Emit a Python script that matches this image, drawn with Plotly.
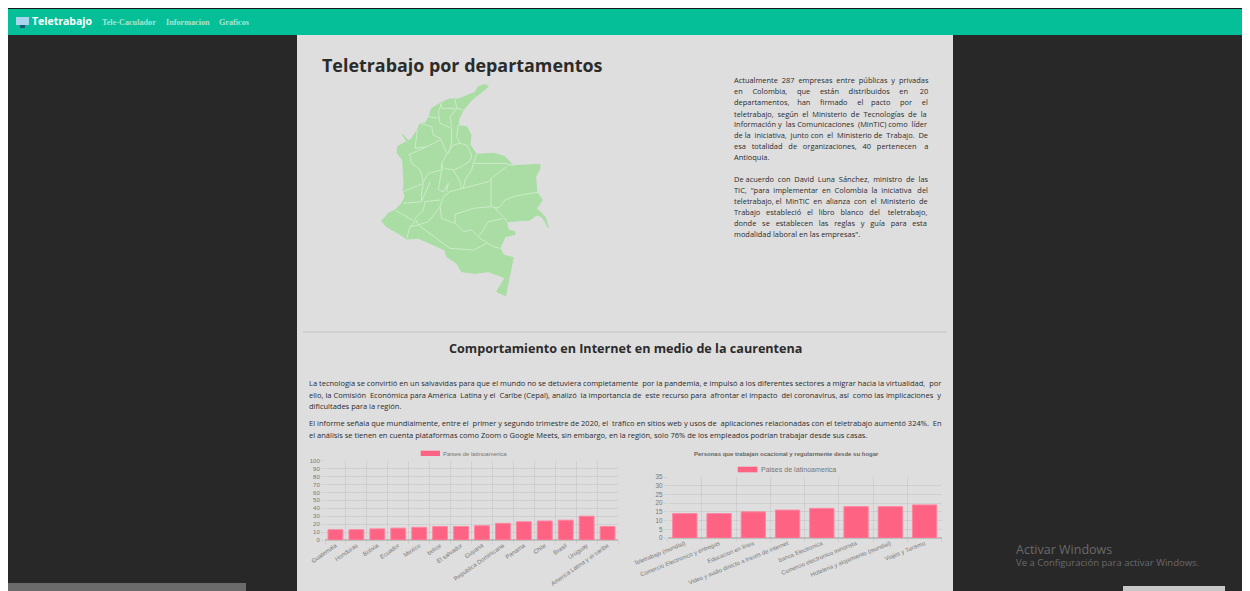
import plotly.graph_objects as go

# tamano util: el html deja 8px de margen en el body
ANCHO, ALTO = 1242, 583

paises = ["Guatemala", "Honduras", "Bolivia", "Ecuador", "Mexico", "belice", "El salvador", "Guyana",
          "Republica Dominicana", "Panama", "Chile", "Brasil", "Uruguay", "America Latina y el caribe"]
valores_paises = [13, 13, 14, 15, 16, 17, 17, 18, 21, 23, 24, 25, 30, 17]

sectores = ["Teletrabajo (mundial)", "Comercio Electronico y entregas", "Educacion en linea",
            "Video y audio directo a traves de internet", "banca Electronica",
            "Comercio electronico minorista", "Hoteleria y alojamiento (mundial)", "Viajes y Turismo"]
valores_sectores = [14, 14, 15, 16, 17, 18, 18, 19]

# contorno del mapa y limites de departamentos
mapa_x = [385, 375, 355, 345, 320, 295, 268, 240, 215, 207, 195, 180, 172, 155, 145, 128, 140, 130, 112, 112, 128,
          130, 132, 130, 135, 125, 105, 85, 65, 80, 115, 140, 175, 210, 255, 260, 290, 305, 345, 385, 410, 435, 410,
          437, 445, 460, 430, 420, 435, 465, 465, 445, 440, 510, 530, 545, 555, 565, 555, 530, 547, 530, 527, 540,
          540, 460, 435, 400, 350, 330, 333, 320, 295, 295, 310, 335, 385]
mapa_y = [35, 28, 35, 52, 62, 72, 72, 85, 100, 125, 145, 145, 165, 190, 198, 178, 200, 205, 215, 235, 255,
          290, 320, 345, 365, 385, 405, 415, 438, 455, 475, 492, 490, 505, 525, 545, 565, 590, 595, 590, 600, 608, 650,
          662, 620, 548, 540, 520, 485, 478, 470, 465, 440, 435, 420, 425, 440, 458, 425, 400, 375, 350, 305, 280,
          268, 272, 245, 235, 238, 210, 180, 155, 152, 135, 105, 75, 35]
limites = [
    [(285, 72), (290, 100), (310, 105)],
    [(240, 85), (245, 100), (285, 100)],
    [(245, 85), (235, 110), (240, 145), (275, 160), (275, 205), (265, 235)],
    [(290, 100), (270, 125), (275, 155)],
    [(207, 125), (235, 130)],
    [(180, 145), (215, 155), (220, 180), (240, 190), (250, 210), (260, 235)],
    [(172, 165), (165, 220), (200, 215), (240, 195)],
    [(145, 240), (200, 215)],
    [(150, 240), (155, 265), (180, 285), (185, 300), (190, 325)],
    [(295, 150), (290, 185), (300, 205), (280, 210), (262, 235), (245, 265), (250, 285)],
    [(300, 205), (320, 210), (335, 240), (330, 258), (305, 275), (280, 285), (255, 280)],
    [(350, 238), (340, 265), (435, 265), (460, 272)],
    [(340, 265), (335, 285), (315, 315), (310, 340)],
    [(440, 275), (400, 305), (385, 320), (310, 340), (270, 350), (250, 365), (240, 395)],
    [(393, 310), (393, 395), (415, 400)],
    [(533, 352), (470, 362), (435, 375), (420, 395), (405, 400), (435, 430), (440, 440)],
    [(393, 395), (340, 400), (285, 418), (285, 445), (310, 470)],
    [(285, 445), (245, 430), (240, 395)],
    [(310, 470), (335, 465), (360, 490), (400, 515), (420, 520)],
    [(430, 430), (385, 440), (370, 465), (355, 485)],
    [(175, 450), (230, 490), (270, 520), (340, 525), (380, 505)],
    [(240, 395), (205, 440), (175, 450), (165, 430), (190, 405), (195, 380), (240, 375)],
    [(130, 385), (185, 380), (185, 350), (190, 325), (130, 350)],
    [(245, 265), (245, 285), (205, 295), (190, 320)],
    [(245, 285), (235, 345), (250, 350), (265, 325), (260, 350)],
    [(210, 320), (185, 380)],
    [(105, 405), (130, 420), (165, 440), (150, 455), (140, 490)],
    [(150, 455), (175, 450)],
    [(305, 340), (300, 320), (280, 285)],
]

parrafo_derecha = [
    ("Actualmente 287 empresas entre públicas y privadas", 80, True),
    ("en Colombia, que están distribuidos en 20", 91.2, True),
    ("departamentos, han firmado el pacto por el", 102.3, True),
    ("teletrabajo, según el Ministerio de Tecnologías de la", 113.5, True),
    ("Información y las Comunicaciones (MinTIC) como líder", 124.5, True),
    ("de la iniciativa, junto con el Ministerio de Trabajo. De", 135.5, True),
    ("esa totalidad de organizaciones, 40 pertenecen a", 146.3, True),
    ("Antioquia.", 157.1, False),
    ("De acuerdo con David Luna Sánchez, ministro de las", 179.1, True),
    ("TIC, \"para implementar en Colombia la iniciativa del", 190.1, True),
    ("teletrabajo, el MinTIC en alianza con el Ministerio de", 201.2, True),
    ("Trabajo estableció el libro blanco del teletrabajo,", 212.3, True),
    ("donde se establecen las reglas y guía para esta", 223.3, True),
    ("modalidad laboral en las empresas\".", 234.3, False),
]
parrafo_ancho = [
    ("La tecnología se convirtió en un salvavidas para que el mundo no se detuviera completamente por la pandemia, e impulsó a los diferentes sectores a migrar hacia la virtualidad, por", 383, True),
    ("ello, la Comisión Económica para América Latina y el Caribe (Cepal), analizó la importancia de este recurso para afrontar el impacto del coronavirus, así como las implicaciones y", 394.5, True),
    ("dificultades para la región.", 406, False),
    ("El informe señala que mundialmente, entre el primer y segundo trimestre de 2020, el tráfico en sitios web y usos de aplicaciones relacionadas con el teletrabajo aumentó 324%. En", 423, True),
    ("el análisis se tienen en cuenta plataformas como Zoom o Google Meets, sin embargo, en la región, solo 76% de los empleados podrían trabajar desde sus casas.", 434.5, False),
]

FUENTE = "Open Sans"
GRIS = "#777777"
ROSA = "#ff6384"
ESPACIO = 0.26

# anchos aproximados de Open Sans, en em
ANCHOS = {"a": .556, "b": .613, "c": .476, "d": .613, "e": .561, "f": .339, "g": .548, "h": .613, "i": .253,
          "j": .253, "k": .525, "l": .253, "m": .93, "n": .613, "o": .604, "p": .613, "q": .613, "r": .408,
          "s": .477, "t": .353, "u": .613, "v": .501, "w": .778, "x": .524, "y": .504, "z": .468, " ": ESPACIO,
          ",": .245, ".": .266, "%": .82, "(": .3, ")": .3, "\"": .4, "A": .633, "B": .65, "C": .63, "D": .73,
          "E": .556, "G": .73, "I": .28, "L": .52, "M": .9, "T": .553, "Z": .56}
ACENTOS = str.maketrans("áéíóúñ", "aeioun")


def px_x(x):
    return (x - 8) / ANCHO


def px_y(y):
    return 1 - (y - 8) / ALTO


def ancho_texto(s, size):
    return sum(ANCHOS.get(c, .572) for c in s.translate(ACENTOS)) * size


def justificar(linea, ancho, size):
    # reparte espacios de mas entre palabras para imitar el texto justificado
    palabras = linea.split(" ")
    huecos = len(palabras) - 1
    extra = max(0, round((ancho - ancho_texto(linea, size)) / (ESPACIO * size)))
    salida = palabras[0]
    for i, p in enumerate(palabras[1:]):
        n = (i + 1) * extra // huecos - i * extra // huecos
        salida += " " + "\u00a0" * n + p
    return salida


def rect(x0, y0, x1, y1, color):
    return dict(type="rect", xref="paper", yref="paper", layer="below", line_width=0, fillcolor=color,
                x0=px_x(x0), x1=px_x(x1), y0=px_y(y1), y1=px_y(y0))


def texto(x, y, s, size, color="#2b2b2b", anchor="left", fuente=FUENTE):
    # el recuadro de la anotacion mete unos 2px a la izquierda
    dx = -2 if anchor == "left" else 0
    return dict(xref="paper", yref="paper", x=px_x(x + dx), y=px_y(y), text=s, showarrow=False, xanchor=anchor,
                yanchor="middle", align=anchor, font=dict(family=fuente, size=size, color=color))


fig = go.Figure()

fig.add_trace(go.Bar(x=paises, y=valores_paises, marker=dict(color=ROSA, line=dict(color="#ff85a0", width=1)),
                     xaxis="x", yaxis="y", name="Paises de latinoamerica"))
fig.add_trace(go.Bar(x=sectores, y=valores_sectores, marker=dict(color=ROSA, line=dict(color="#ff85a0", width=1)),
                     xaxis="x2", yaxis="y2", name="Paises de latinoamerica"))

# mapa en su propio eje oculto
fig.add_trace(go.Scatter(x=mapa_x, y=mapa_y, mode="lines", fill="toself", fillcolor="#a9dda4",
                         line=dict(color="#a9dda4", width=1), xaxis="x3", yaxis="y3", hoverinfo="skip"))
for lim in limites:
    fig.add_trace(go.Scatter(x=[p[0] for p in lim], y=[p[1] for p in lim], mode="lines",
                             line=dict(color="#cdebc9", width=1), xaxis="x3", yaxis="y3", hoverinfo="skip"))

eje = dict(showline=False, automargin=False, gridcolor="rgba(0,0,0,0.06)", zeroline=True,
           zerolinecolor="rgba(0,0,0,0.15)", ticks="outside", ticklen=3, tickcolor="rgba(0,0,0,0.06)")
fuente_ticks = dict(family="Liberation Sans", color=GRIS)

formas = [
    rect(0, 8, 1250, 9, "#1a1a1a"),
    rect(8, 35, 1243, 591, "#282828"),
    rect(8, 9, 1243, 35, "#05bf98"),
    rect(297, 35, 953, 591, "#dedede"),
    rect(1243, 9, 1250, 591, "#f0f0f0"),
    rect(1243, 9, 1250, 331, "#cdcdcd"),
    rect(8, 583, 246, 591, "#6b6b6b"),
    rect(1123, 586, 1225, 591, "#c8c8c8"),
    rect(303, 331.5, 947, 332.5, "#c4c4c4"),
    rect(420.7, 450.7, 440, 456, ROSA),
    rect(737.7, 466.7, 757.3, 472.3, ROSA),
    # icono del menu
    rect(16, 17, 29, 25, "#a9d4ee"),
    rect(20, 25, 25, 28, "#1d5a7a"),
]

notas = [
    texto(32, 21, "<b>Teletrabajo</b>", 10.5, "#ffffff"),
    texto(102, 22.5, "<b>Tele-Caculador</b>", 8.2, "#a5e6d5", fuente="Liberation Serif"),
    texto(166, 22.5, "<b>Informacion</b>", 8.2, "#a5e6d5", fuente="Liberation Serif"),
    texto(219, 22.5, "<b>Graficos</b>", 8.2, "#a5e6d5", fuente="Liberation Serif"),
    texto(322, 65, "<b>Teletrabajo por departamentos</b>", 17.9),
    texto(625, 348, "<b>Comportamiento en Internet en medio de la caurentena</b>", 12.6, anchor="center"),
    texto(443, 453.5, "Paises de latinoamerica", 6, GRIS, fuente="Liberation Sans"),
    texto(786.5, 453.7, "<b>Personas que trabajan ocacional y regularmente desde su hogar</b>", 6, "#666666", "center", "Liberation Sans"),
    texto(761, 469.5, "Paises de latinoamerica", 7.1, GRIS, fuente="Liberation Sans"),
    texto(1016, 549, "Activar Windows", 12.5, "#6a6a6a"),
    texto(1016, 562.5, "Ve a Configuración para activar Windows.", 9.5, "#6a6a6a"),
]
for linea, y, just in parrafo_derecha:
    notas.append(texto(734, y, justificar(linea, 194, 7.45) if just else linea, 7.45))
for linea, y, just in parrafo_ancho:
    notas.append(texto(309, y, justificar(linea, 633, 7.5) if just else linea, 7.5))

fig.update_layout(
    width=ANCHO, height=ALTO, margin=dict(l=0, r=0, t=0, b=0), autosize=False,
    paper_bgcolor="#ffffff", plot_bgcolor="rgba(0,0,0,0)", showlegend=False, bargap=0.29,
    xaxis=dict(domain=[px_x(325), px_x(618)], anchor="y", tickson="boundaries", tickangle=-35,
               tickfont=dict(size=6, **fuente_ticks), **eje),
    yaxis=dict(domain=[px_y(540), px_y(460.7)], anchor="x", range=[0, 100], dtick=10,
               tickfont=dict(size=6, **fuente_ticks), **eje),
    xaxis2=dict(domain=[px_x(667.7), px_x(941.7)], anchor="y2", tickson="boundaries", tickangle=-22,
                tickfont=dict(size=5.9, **fuente_ticks), **eje),
    yaxis2=dict(domain=[px_y(538), px_y(477)], anchor="x2", range=[0, 35], dtick=5,
                tickfont=dict(size=6.3, **fuente_ticks), **eje),
    xaxis3=dict(domain=[px_x(360), px_x(570)], anchor="y3", range=[0, 630], visible=False),
    yaxis3=dict(domain=[px_y(305), px_y(75)], anchor="x3", range=[690, 0], visible=False),
    shapes=formas, annotations=notas,
)

fig.write_html("out.html")
